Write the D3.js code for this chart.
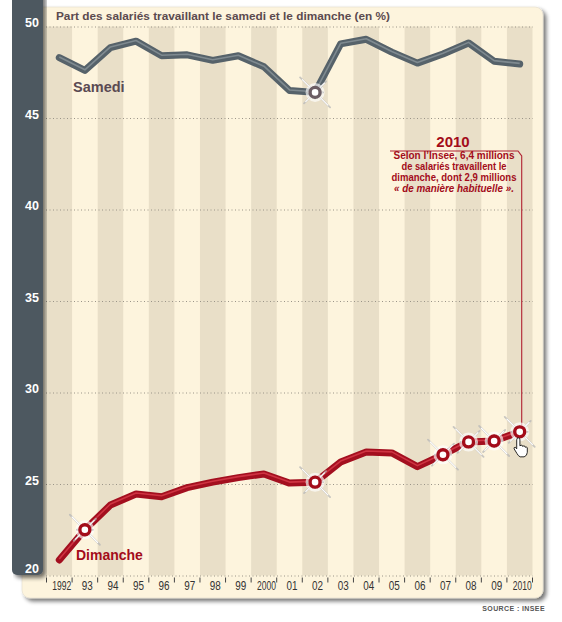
<!DOCTYPE html>
<html><head><meta charset="utf-8">
<script src="https://cdn.jsdelivr.net/npm/d3@7/dist/d3.min.js"></script>
<style>
html,body{margin:0;padding:0;background:#fff;}
svg{display:block;font-family:"Liberation Sans",Arial,sans-serif;}
</style></head>
<body>
<svg id="chart" width="562" height="622"></svg>
<script>
const years = ["1992","93","94","95","96","97","98","99","2000","01","02","03","04","05","06","07","08","09","2010"];
const samedi = [48.3,47.6,48.85,49.2,48.4,48.45,48.15,48.4,47.8,46.5,46.4,49.05,49.3,48.6,48.0,48.5,49.1,48.1,47.95];
const dimanche = [20.85,22.5,23.85,24.45,24.3,24.8,25.1,25.35,25.55,25.05,25.1,26.2,26.75,26.7,25.95,26.6,27.3,27.35,27.85];
const yTicks = [20,25,30,35,40,45,50];
const samediMarkers = ["02"];
const dimancheMarkers = ["93","02","07","08","09","2010"];
const title = "Part des salariés travaillant le samedi et le dimanche (en %)";
const noteYear = "2010";
const noteLines = ["Selon l\u2019Insee, 6,4 millions","de salariés travaillent le","dimanche, dont 2,9 millions","\u00ab de manière habituelle \u00bb."];
const source = "SOURCE : INSEE";

const svg = d3.select("#chart");
const defs = svg.append("defs");
const f = defs.append("filter").attr("id","shadow").attr("x","-5%").attr("y","-5%").attr("width","115%").attr("height","115%");
f.append("feGaussianBlur").attr("in","SourceAlpha").attr("stdDeviation",2.2);
f.append("feOffset").attr("dx",3).attr("dy",3).attr("result","b");
f.append("feComponentTransfer").append("feFuncA").attr("type","linear").attr("slope",0.55);
const m = f.append("feMerge"); m.append("feMergeNode"); m.append("feMergeNode").attr("in","SourceGraphic");

const x = d3.scaleBand().domain(years).range([46.5,532.5]);
const xc = d => x(d) + x.bandwidth()/2;
const y = d3.scaleLinear().domain([20,50]).range([575.5,26.5]);

// beige panel
svg.append("rect").attr("x",22).attr("y",7).attr("width",521).attr("height",591).attr("rx",8)
  .attr("fill","#fdf4dd").attr("stroke","#e2dccd").attr("stroke-width",0.6).attr("filter","url(#shadow)");

// stripes
svg.append("g").selectAll("rect").data(years.filter((d,i)=>i%2===0)).join("rect")
  .attr("x",d=>x(d)).attr("width",x.bandwidth()).attr("y",y(50)).attr("height",y(20)-y(50))
  .attr("fill","#e9dfc8");

// gridlines
svg.append("g").selectAll("line").data(yTicks).join("line")
  .attr("x1",46).attr("x2",533).attr("y1",d=>y(d)+0.5).attr("y2",d=>y(d)+0.5)
  .attr("stroke","#9a9488").attr("stroke-width",1).attr("stroke-dasharray","1,2.5");

// dark left panel
svg.append("rect").attr("x",12).attr("y",-10).attr("width",31).attr("height",585).attr("rx",5)
  .attr("fill","#4d5961").attr("filter","url(#shadow)");

// y labels
svg.append("g").selectAll("text").data(yTicks).join("text")
  .attr("x",39).attr("y",d=>d===20? y(d)-3 : y(d)+0.5).attr("text-anchor","end")
  .attr("fill","#fff").attr("font-weight","bold").attr("font-size",12.5).text(d=>d);

// x axis ticks and labels
const xAxis = d3.axisBottom(x).tickSize(0).tickFormat(d=>d);
const gx = svg.append("g").attr("transform",`translate(0,${y(20)})`).call(xAxis);
gx.select(".domain").remove();
gx.selectAll("text").attr("dy",0).attr("y",14.5).attr("x",2.5)
  .attr("font-family","'Liberation Sans',Arial,sans-serif").attr("font-size",13).attr("fill","#333")
  .attr("textLength",d=>d.length===4?19:11).attr("lengthAdjust","spacingAndGlyphs");
svg.append("g").selectAll("line").data(years.concat(["end"])).join("line")
  .attr("x1",d=>d==="end"?532.5:x(d)).attr("x2",d=>d==="end"?532.5:x(d))
  .attr("y1",y(20)+2).attr("y2",y(20)+7).attr("stroke","#444").attr("stroke-width",1);

// title
svg.append("text").attr("x",56).attr("y",19.5).attr("font-weight","bold").attr("font-size",11)
  .attr("fill","#5b4a4f").attr("textLength",334).attr("lengthAdjust","spacingAndGlyphs").text(title);

const line = d3.line().x((d,i)=>xc(years[i])).y(d=>y(d));

// samedi line
svg.append("path").attr("d",line(samedi)).attr("fill","none").attr("stroke","#56626a")
  .attr("stroke-width",7).attr("stroke-linejoin","round").attr("stroke-linecap","round");
svg.append("path").attr("d",line(samedi)).attr("fill","none").attr("stroke","#7f8a90")
  .attr("stroke-width",1.6).attr("stroke-linejoin","round").attr("transform","translate(0,-0.6)");

// dimanche line
svg.append("path").attr("d",line(dimanche)).attr("fill","none").attr("stroke","#a30f1f")
  .attr("stroke-width",7).attr("stroke-linejoin","round").attr("stroke-linecap","round");
svg.append("path").attr("d",line(dimanche)).attr("fill","none").attr("stroke","#cf3342")
  .attr("stroke-width",1.6).attr("stroke-linejoin","round").attr("transform","translate(0,-1)");

// annotation line
const ax = xc("2010")+2;
svg.append("path").attr("d",`M390,151 L518,151 L${ax},156 L${ax},${y(dimanche[18])-6}`)
  .attr("fill","none").attr("stroke","#b02030").attr("stroke-width",1.1);

// markers
function marker(g, cx, cy, col){
  const s = g.append("g").attr("transform",`translate(${cx},${cy})`);
  s.append("circle").attr("r",9.5).attr("fill","#fff").attr("opacity",0.65);
  const rays = [[-15,-15,15,15],[11,-11,-11,11],[-8,0,8,0],[0,-6,0,6]];
  rays.forEach(r=>{
    s.append("line").attr("x1",r[0]).attr("y1",r[1]).attr("x2",r[2]).attr("y2",r[3])
      .attr("stroke","#b8b8b8").attr("stroke-width",1.8).attr("stroke-linecap","round").attr("opacity",0.75);
    s.append("line").attr("x1",r[0]*0.85).attr("y1",r[1]*0.85).attr("x2",r[2]*0.85).attr("y2",r[3]*0.85)
      .attr("stroke","#fff").attr("stroke-width",1.1).attr("stroke-linecap","round");
  });
  s.append("circle").attr("r",5).attr("fill","#fff").attr("stroke",col).attr("stroke-width",3.4);
}
const mg = svg.append("g");
samediMarkers.forEach(d=>{const i=years.indexOf(d); marker(mg,xc(d),y(samedi[i]),"#6b5d63");});
dimancheMarkers.forEach(d=>{const i=years.indexOf(d); marker(mg,xc(d),y(dimanche[i]),"#a30c1a");});

// hand cursor
svg.append("path").attr("transform",`translate(${xc("2010")-3},${y(dimanche[18])+6})`)
  .attr("d","M0,2 Q0,0 1.6,0 Q3.2,0 3.2,2 L3.2,8 Q4.4,6.8 5.6,7.6 L5.9,8.6 Q7,7.6 8.2,8.4 L8.5,9.4 Q9.6,8.8 10.6,9.8 L10.6,14.5 Q10.4,18 7.4,19 L3.4,19 Q1.4,18 0.2,15.6 L-2.6,11 Q-3,9.4 -1.4,9.4 L0,11 Z")
  .attr("fill","#fff").attr("stroke","#111").attr("stroke-width",0.9).attr("stroke-linejoin","round");

// series labels
svg.append("text").attr("x",73).attr("y",92).attr("font-weight","bold").attr("font-size",14.5)
  .attr("fill","#5a4a52").text("Samedi");
svg.append("text").attr("x",76).attr("y",560).attr("font-weight","bold").attr("font-size",14)
  .attr("fill","#a30c1a").text("Dimanche");

// annotation text
svg.append("text").attr("x",453).attr("y",147).attr("text-anchor","middle").attr("font-weight","bold")
  .attr("font-size",15).attr("fill","#a30c1a").text(noteYear);
const lw = [121,105,125,120];
noteLines.forEach((t,i)=>{
  svg.append("text").attr("x",454).attr("y",159+i*11).attr("text-anchor","middle")
    .attr("font-weight","bold").attr("font-size",11).attr("fill","#a30c1a")
    .attr("font-style",i===3?"italic":"normal")
    .attr("textLength",lw[i]).attr("lengthAdjust","spacingAndGlyphs").text(t);
});

// source
svg.append("text").attr("x",545).attr("y",611).attr("text-anchor","end").attr("font-size",7)
  .attr("font-weight","bold").attr("letter-spacing",0.4).attr("fill","#555").text(source);
</script>
</body></html>
